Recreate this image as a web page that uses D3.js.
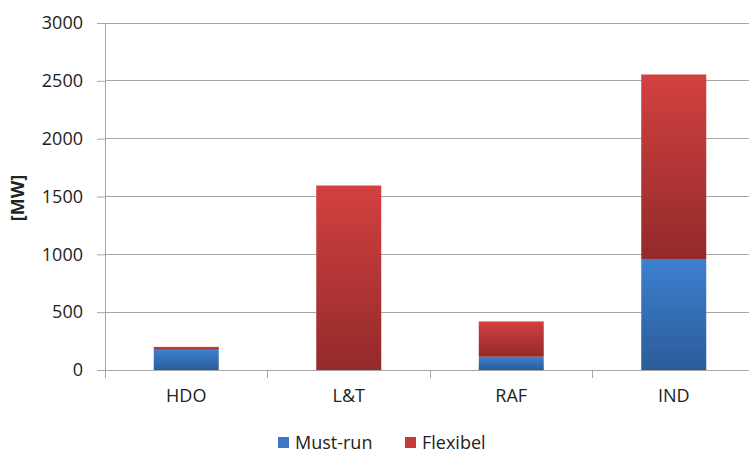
<!DOCTYPE html>
<html><head><meta charset="utf-8">
<script src="https://cdn.jsdelivr.net/npm/d3@7/dist/d3.min.js"></script>
<style>body{margin:0;background:#fff}svg{display:block}text{font-family:"Open Sans",sans-serif;fill:#222}</style>
</head><body>
<svg id="c" width="749" height="453"></svg>
<script>
const categories = ["HDO", "L&T", "RAF", "IND"];
const mustRun = [175, 0, 115, 960];
const flexibel = [25, 1595, 305, 1595];
const yTicks = [0, 500, 1000, 1500, 2000, 2500, 3000];
const seriesNames = ["Must-run", "Flexibel"];

const svg = d3.select("#c");
const m = {l: 105, r: 755, t: 23, b: 370};
const x = d3.scaleBand().domain(categories).range([m.l, m.r]).paddingInner(0).paddingOuter(0);
const y = d3.scaleLinear().domain([0, 3000]).range([m.b, m.t]);

const defs = svg.append("defs");
const gb = defs.append("linearGradient").attr("id","gb").attr("x1",0).attr("y1",0).attr("x2",0).attr("y2",1);
gb.append("stop").attr("offset","0%").attr("stop-color","#3d80d0");
gb.append("stop").attr("offset","100%").attr("stop-color","#2b5c99");
const gr = defs.append("linearGradient").attr("id","gr").attr("x1",0).attr("y1",0).attr("x2",0).attr("y2",1);
gr.append("stop").attr("offset","0%").attr("stop-color","#d24140");
gr.append("stop").attr("offset","100%").attr("stop-color","#932a2a");

// gridlines
svg.append("g").selectAll("line").data(yTicks.slice(1)).join("line")
  .attr("x1", m.l).attr("x2", m.r).attr("y1", d => y(d)).attr("y2", d => y(d))
  .attr("stroke", "#a6a6a6").attr("stroke-width", 1).attr("shape-rendering","crispEdges");

// y axis
const ya = svg.append("g").attr("transform", `translate(${m.l},0)`)
  .call(d3.axisLeft(y).tickValues(yTicks).tickFormat(d3.format("d")).tickSize(8).tickPadding(14));
ya.select(".domain").attr("stroke", "#a6a6a6");
ya.selectAll(".tick line").attr("stroke", "#a6a6a6");
ya.selectAll("text").style("font-size", "18px").attr("fill", "#222");

// x axis
const xa = svg.append("g").attr("transform", `translate(0,${m.b})`)
  .call(d3.axisBottom(x).tickSize(0).tickPadding(19));
xa.select(".domain").attr("stroke", "#a6a6a6");
xa.selectAll("text").style("font-size", "18px").attr("fill", "#222");
// category boundary ticks
svg.append("g").selectAll("line").data(categories).join("line")
  .attr("x1", d => x(d)).attr("x2", d => x(d)).attr("y1", m.b).attr("y2", m.b + 8)
  .attr("stroke", "#a6a6a6").attr("shape-rendering","crispEdges");

// bars
const bw = x.bandwidth() * 0.4;
const stackData = categories.map((c, i) => ({c, mr: mustRun[i], fx: flexibel[i]}));
const stack = d3.stack().keys(["mr", "fx"])(stackData);
const fills = ["url(#gb)", "url(#gr)"];
svg.append("g").selectAll("g").data(stack).join("g")
  .attr("fill", (d, i) => fills[i])
  .selectAll("rect").data(d => d.filter(s => s[1] > s[0])).join("rect")
  .attr("x", d => x(d.data.c) + (x.bandwidth() - bw) / 2)
  .attr("width", bw)
  .attr("y", d => y(d[1]))
  .attr("height", d => y(d[0]) - y(d[1]));

// y label
svg.append("text").attr("transform", "translate(24,198) rotate(-90)")
  .attr("text-anchor", "middle").style("font-size", "18px").style("font-weight", "bold").text("[MW]");

// legend
const lg = svg.append("g");
const lx = [278, 405];
const lc = ["#3a78c6", "#c73a3a"];
seriesNames.forEach((n, i) => {
  lg.append("rect").attr("x", lx[i]).attr("y", 437).attr("width", 11).attr("height", 11).attr("fill", lc[i]);
  lg.append("text").attr("x", lx[i] + 17).attr("y", 449).style("font-size", "18px").text(n);
});
</script>
</body></html>
